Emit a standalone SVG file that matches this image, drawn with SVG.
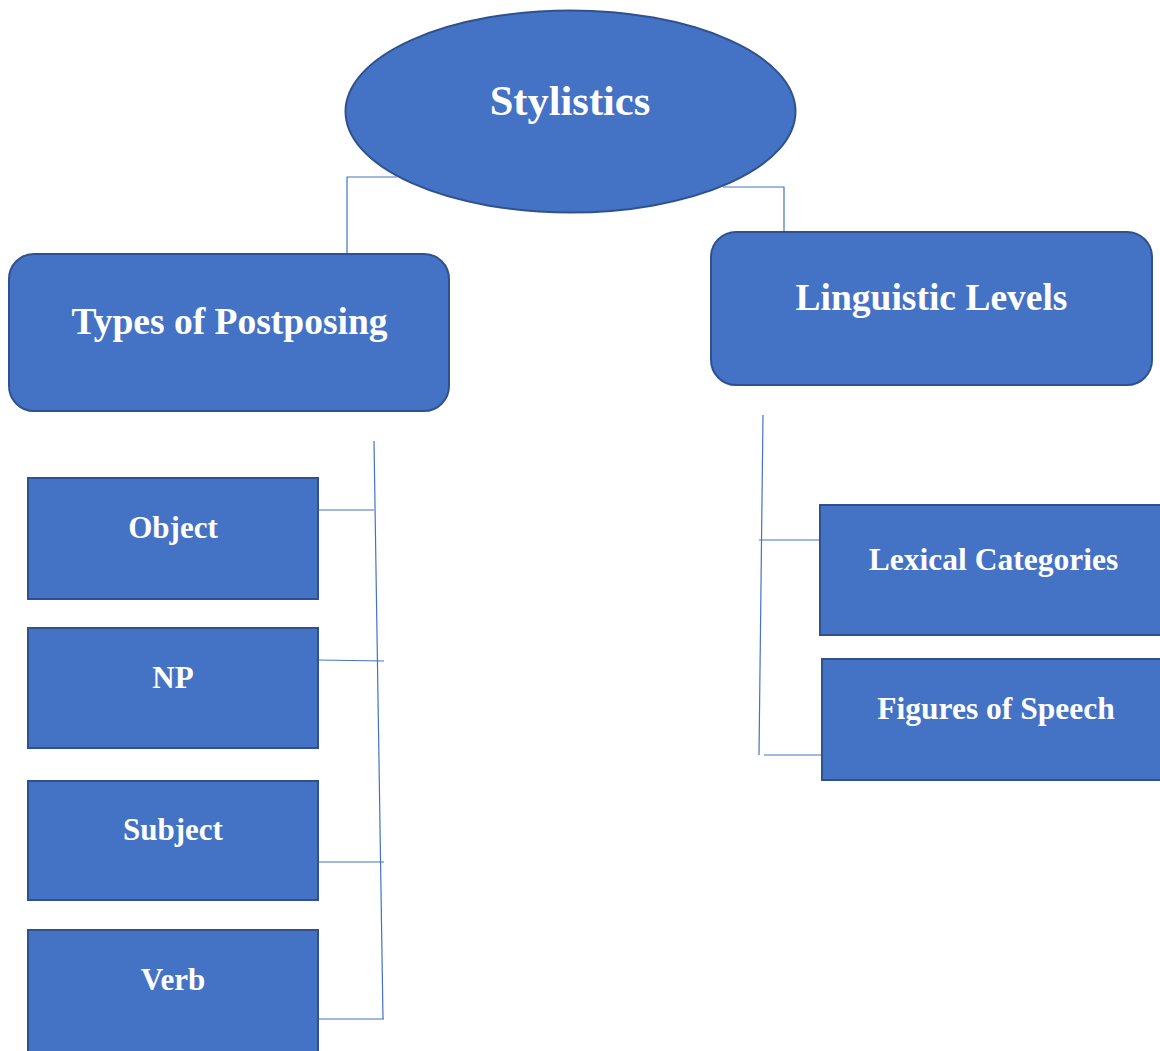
<svg xmlns="http://www.w3.org/2000/svg" width="1160" height="1051" viewBox="0 0 1160 1051">
<style>
.shape{fill:#4472C4;stroke:#2F528F;stroke-width:2}
.lbl{font-family:"Liberation Serif","Times New Roman",serif;font-weight:bold;fill:#FFFFFF;text-anchor:middle}
.conn{fill:none;stroke:#4472C4;stroke-width:1.2}
</style>
<rect width="1160" height="1051" fill="#FFFFFF"/>
<g id="connectors">
<polyline class="conn" points="397,177 347,177 347,254"/>
<polyline class="conn" points="723,187 784,187 784,232"/>
<line class="conn" x1="374" y1="441" x2="383" y2="1019"/>
<line class="conn" x1="318" y1="510" x2="374" y2="510"/>
<line class="conn" x1="318" y1="660" x2="384" y2="661"/>
<line class="conn" x1="318" y1="862" x2="384" y2="862"/>
<line class="conn" x1="318" y1="1019" x2="384" y2="1019"/>
<line class="conn" x1="763" y1="415" x2="759" y2="755"/>
<line class="conn" x1="759" y1="540" x2="820" y2="540"/>
<line class="conn" x1="764" y1="755" x2="821" y2="755"/>
</g>
<g id="stylistics">
<ellipse class="shape" cx="570.5" cy="111.5" rx="225" ry="101"/>
<text class="lbl" x="570" y="115" font-size="42.5">Stylistics</text>
</g>
<g id="types-of-postposing">
<rect class="shape" x="9" y="254" width="440" height="157" rx="25"/>
<text class="lbl" x="229.5" y="334" font-size="37.5">Types of Postposing</text>
</g>
<g id="linguistic-levels">
<rect class="shape" x="711" y="232" width="441" height="153" rx="25"/>
<text class="lbl" x="931.5" y="310" font-size="37.5">Linguistic Levels</text>
</g>
<g id="object">
<rect class="shape" x="28" y="478" width="290" height="121"/>
<text class="lbl" x="173" y="538" font-size="31">Object</text>
</g>
<g id="np">
<rect class="shape" x="28" y="628" width="290" height="120"/>
<text class="lbl" x="173" y="688" font-size="31">NP</text>
</g>
<g id="subject">
<rect class="shape" x="28" y="781" width="290" height="119"/>
<text class="lbl" x="173" y="840" font-size="31">Subject</text>
</g>
<g id="verb">
<rect class="shape" x="28" y="930" width="290" height="130"/>
<text class="lbl" x="173" y="990" font-size="31">Verb</text>
</g>
<g id="lexical-categories">
<rect class="shape" x="820" y="505" width="360" height="130"/>
<text class="lbl" x="993.5" y="570" font-size="31.5">Lexical Categories</text>
</g>
<g id="figures-of-speech">
<rect class="shape" x="822" y="659" width="360" height="121"/>
<text class="lbl" x="996" y="719" font-size="31.5">Figures of Speech</text>
</g>
</svg>
